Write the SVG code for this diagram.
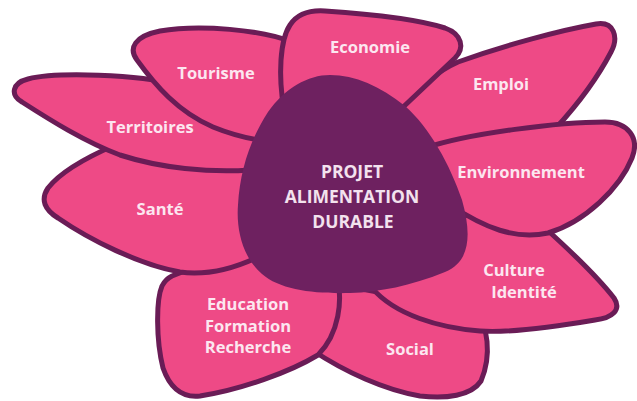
<svg xmlns="http://www.w3.org/2000/svg" width="637" height="401" viewBox="0 0 637 401">
<style>
.petal{fill:#EE4A86;stroke:#6A1C56;stroke-width:5;stroke-linejoin:round}
.core{fill:#6E2160;stroke:none}
.lbl{font-family:"Open Sans","Noto Sans",sans-serif;font-weight:700;font-size:16.5px;fill:#FCE6F0;text-anchor:middle}
.clbl{font-family:"Open Sans","Noto Sans",sans-serif;font-weight:700;font-size:17.5px;fill:#F3E2EE;text-anchor:middle}
</style>
<rect width="637" height="401" fill="#FFFFFF"/>
<g id="connectors"></g>
<g id="social">
<path class="petal" d="M340,285 L475,310 C488,325 492,355 481,381 C471,396 446,399 420,396 C385,390 345,372 312,350 Z"/>
<text class="lbl" x="410" y="355">Social</text>
</g>
<g id="education">
<path class="petal" d="M172,276 C200,264 235,258 265,255 L335,270 C345,300 338,335 318,355 C290,372 240,390 200,396 C182,398 170,388 163,368 C156,340 156,300 162,286 C165,280 168,278 172,276 Z"/>
<text class="lbl" x="248" y="310">Education</text>
<text class="lbl" x="248" y="332">Formation</text>
<text class="lbl" x="248" y="353">Recherche</text>
</g>
<g id="culture">
<path class="petal" d="M455,215 C490,215 525,222 545,228 C575,255 600,280 614,298 C622,310 612,318 595,320 C560,326 510,333 480,331 C440,328 395,315 372,288 L400,240 Z"/>
<text class="lbl" x="514" y="276">Culture</text>
<text class="lbl" x="524" y="298">Identité</text>
</g>
<g id="emploi">
<path class="petal" d="M395,110 C418,87 440,70 458,62 C505,45 562,30 596,24 C614,21 619,37 611,52 C598,77 578,104 556,128 L435,165 Z"/>
<text class="lbl" x="501" y="90">Emploi</text>
</g>
<g id="environnement">
<path class="petal" d="M425,148 C470,133 560,122 605,122 C628,122 640,138 632,158 C620,188 585,222 548,233 C515,240 485,228 450,205 Z"/>
<text class="lbl" x="521" y="178">Environnement</text>
</g>
<g id="sante">
<path class="petal" d="M115,145 C92,155 62,170 48,188 C40,200 45,210 58,218 C90,240 140,265 180,272 C210,276 240,266 262,255 L262,160 Z"/>
<text class="lbl" x="160" y="215">Santé</text>
</g>
<g id="territoires">
<path class="petal" d="M175,85 C140,74 55,72 28,79 C12,83 10,95 22,102 C50,120 85,142 120,155 C160,168 210,173 250,170 L270,110 Z"/>
<text class="lbl" x="150" y="133">Territoires</text>
</g>
<g id="tourisme">
<path class="petal" d="M292,42 C262,30 200,24 160,31 C135,36 128,48 137,60 C155,85 178,112 213,127 C235,136 255,140 272,142 L295,100 Z"/>
<text class="lbl" x="216" y="79">Tourisme</text>
</g>
<g id="economie">
<path class="petal" d="M284,110 C278,75 280,40 290,25 C298,13 310,10 325,11 C370,14 420,20 445,28 C462,34 465,48 455,58 L400,110 Z"/>
<text class="lbl" x="370" y="53">Economie</text>
</g>
<g id="projet">
<path class="core" d="M330,75 C355,75 380,86 405,106 C430,128 450,165 462,200 C472,235 470,262 445,272 C410,286 380,292 350,293 C315,294 280,290 262,274 C243,258 236,230 238,205 C240,170 250,140 268,112 C285,88 308,75 330,75 Z"/>
<text class="clbl" x="352" y="178">PROJET</text>
<text class="clbl" x="352" y="203">ALIMENTATION</text>
<text class="clbl" x="353" y="228">DURABLE</text>
</g>
</svg>
